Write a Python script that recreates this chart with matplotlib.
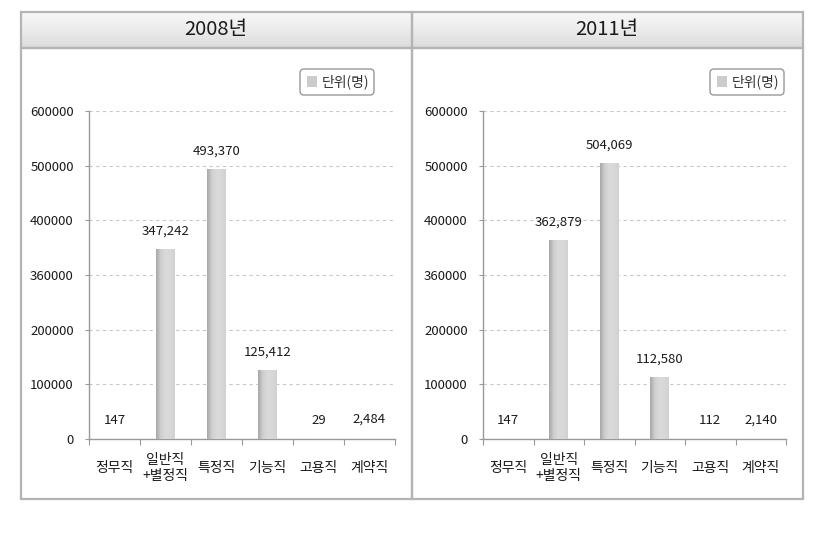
import numpy as np
import matplotlib
matplotlib.use("Agg")
import matplotlib.pyplot as plt
from matplotlib.patches import Rectangle, FancyBboxPatch

plt.rcParams['font.family'] = ['Noto Sans CJK KR', 'DejaVu Sans']

# data
years = ['2008년', '2011년']
categories = ['정무직', '일반직\n+별정직', '특정직', '기능직', '고용직', '계약직']
values_2008 = [147, 347242, 493370, 125412, 29, 2484]
values_2011 = [147, 362879, 504069, 112580, 112, 2140]
ytick_vals = [0, 100000, 200000, 300000, 400000, 500000, 600000]
ytick_labels = ['0', '100000', '200000', '360000', '400000', '500000', '600000']
unit_label = '단위(명)'

W, H = 838, 536
fig = plt.figure(figsize=(W / 100, H / 100), dpi=100)

# background / frame axes in pixel units
bg = fig.add_axes([0, 0, 1, 1])
bg.set_xlim(0, W)
bg.set_ylim(H, 0)
bg.axis('off')

border = '#b4b4b4'
grad = np.linspace(0, 1, 50).reshape(-1, 1)
hdr_cmap = matplotlib.colors.LinearSegmentedColormap.from_list(
    'hdr', ['#f7f7f7', '#f0f0f0', '#e6e6e6', '#dcdcdc'])
for x0, x1 in [(21, 412), (412, 803)]:
    bg.imshow(grad, extent=(x0, x1, 48, 12), cmap=hdr_cmap, aspect='auto', zorder=1)
    bg.add_patch(Rectangle((x0, 12), x1 - x0, 36, fill=False, ec=border, lw=1.6, zorder=2))
    bg.add_patch(Rectangle((x0, 48), x1 - x0, 451, fill=False, ec=border, lw=1.6, zorder=2))
for yr, xc in zip(years, [216, 607]):
    bg.text(xc, 30, yr, ha='center', va='center', fontsize=14.5, color='#1a1a1a', zorder=3)
bg.set_xlim(0, W)
bg.set_ylim(H, 0)

bar_cmap = matplotlib.colors.LinearSegmentedColormap.from_list(
    'bar', ['#a8a8a8', '#cfcfcf', '#dadada', '#d8d8d8', '#d2d2d2'])
bar_grad = np.linspace(0, 1, 40).reshape(1, -1)

panels = [(values_2008, 89, 395), (values_2011, 483, 786)]
for vals, px0, px1 in panels:
    top, bottom = 111, 439
    ax = fig.add_axes([px0 / W, 1 - bottom / H, (px1 - px0) / W, (bottom - top) / H])
    x = np.arange(len(categories))
    bars = ax.bar(x, vals, width=0.37, color='#d6d6d6', zorder=2)
    for b in bars:
        bx, by, bw, bh = b.get_x(), b.get_y(), b.get_width(), b.get_height()
        if bh > 5000:
            ax.imshow(bar_grad, extent=(bx, bx + bw, by, by + bh), cmap=bar_cmap,
                      aspect='auto', zorder=3)
        else:
            b.set_visible(False)
    ax.set_xlim(-0.5, len(categories) - 0.5)
    ax.set_ylim(0, 600000)
    for xi, v in zip(x, vals):
        ax.annotate(f'{v:,}', (xi, v), xytext=(0, 13), textcoords='offset points',
                    ha='center', va='center', fontsize=9.5, color='#1a1a1a')
    ax.set_yticks(ytick_vals)
    ax.set_yticklabels(ytick_labels, fontsize=9.5, color='#1a1a1a')
    ax.set_xticks(np.arange(len(categories) + 1) - 0.5)
    ax.set_xticklabels([])
    ax.set_xticks(x, minor=True)
    ax.set_xticklabels(categories, minor=True, fontsize=10, color='#1a1a1a', linespacing=1.15)
    for lab in ax.get_xticklabels(minor=True):
        lab.set_va('center')
    ax.tick_params(axis='x', which='minor', length=0, pad=21)
    ax.tick_params(axis='x', which='major', length=4, color='#999999', direction='out')
    ax.tick_params(axis='y', length=3, color='#999999', pad=8)
    for s in ['top', 'right']:
        ax.spines[s].set_visible(False)
    for s in ['left', 'bottom']:
        ax.spines[s].set_color('#999999')
        ax.spines[s].set_linewidth(1.0)
    ax.yaxis.grid(True, linestyle=(0, (3, 3)), color='#c8c8c8', linewidth=0.8, zorder=0)
    ax.set_axisbelow(True)
    ax.patch.set_alpha(0)

# unit legends
for lx in [300, 710]:
    bg.add_patch(FancyBboxPatch((lx, 69), 74, 26, boxstyle='round,pad=0,rounding_size=4',
                                fc='white', ec='#999999', lw=1.0, zorder=4))
    bg.add_patch(Rectangle((lx + 7, 76), 10, 11, fc='#cccccc', ec='none', zorder=5))
    bg.text(lx + 22, 82, unit_label, ha='left', va='center', fontsize=10,
            color='#333333', zorder=5)

fig.savefig('out.png', dpi=100)
